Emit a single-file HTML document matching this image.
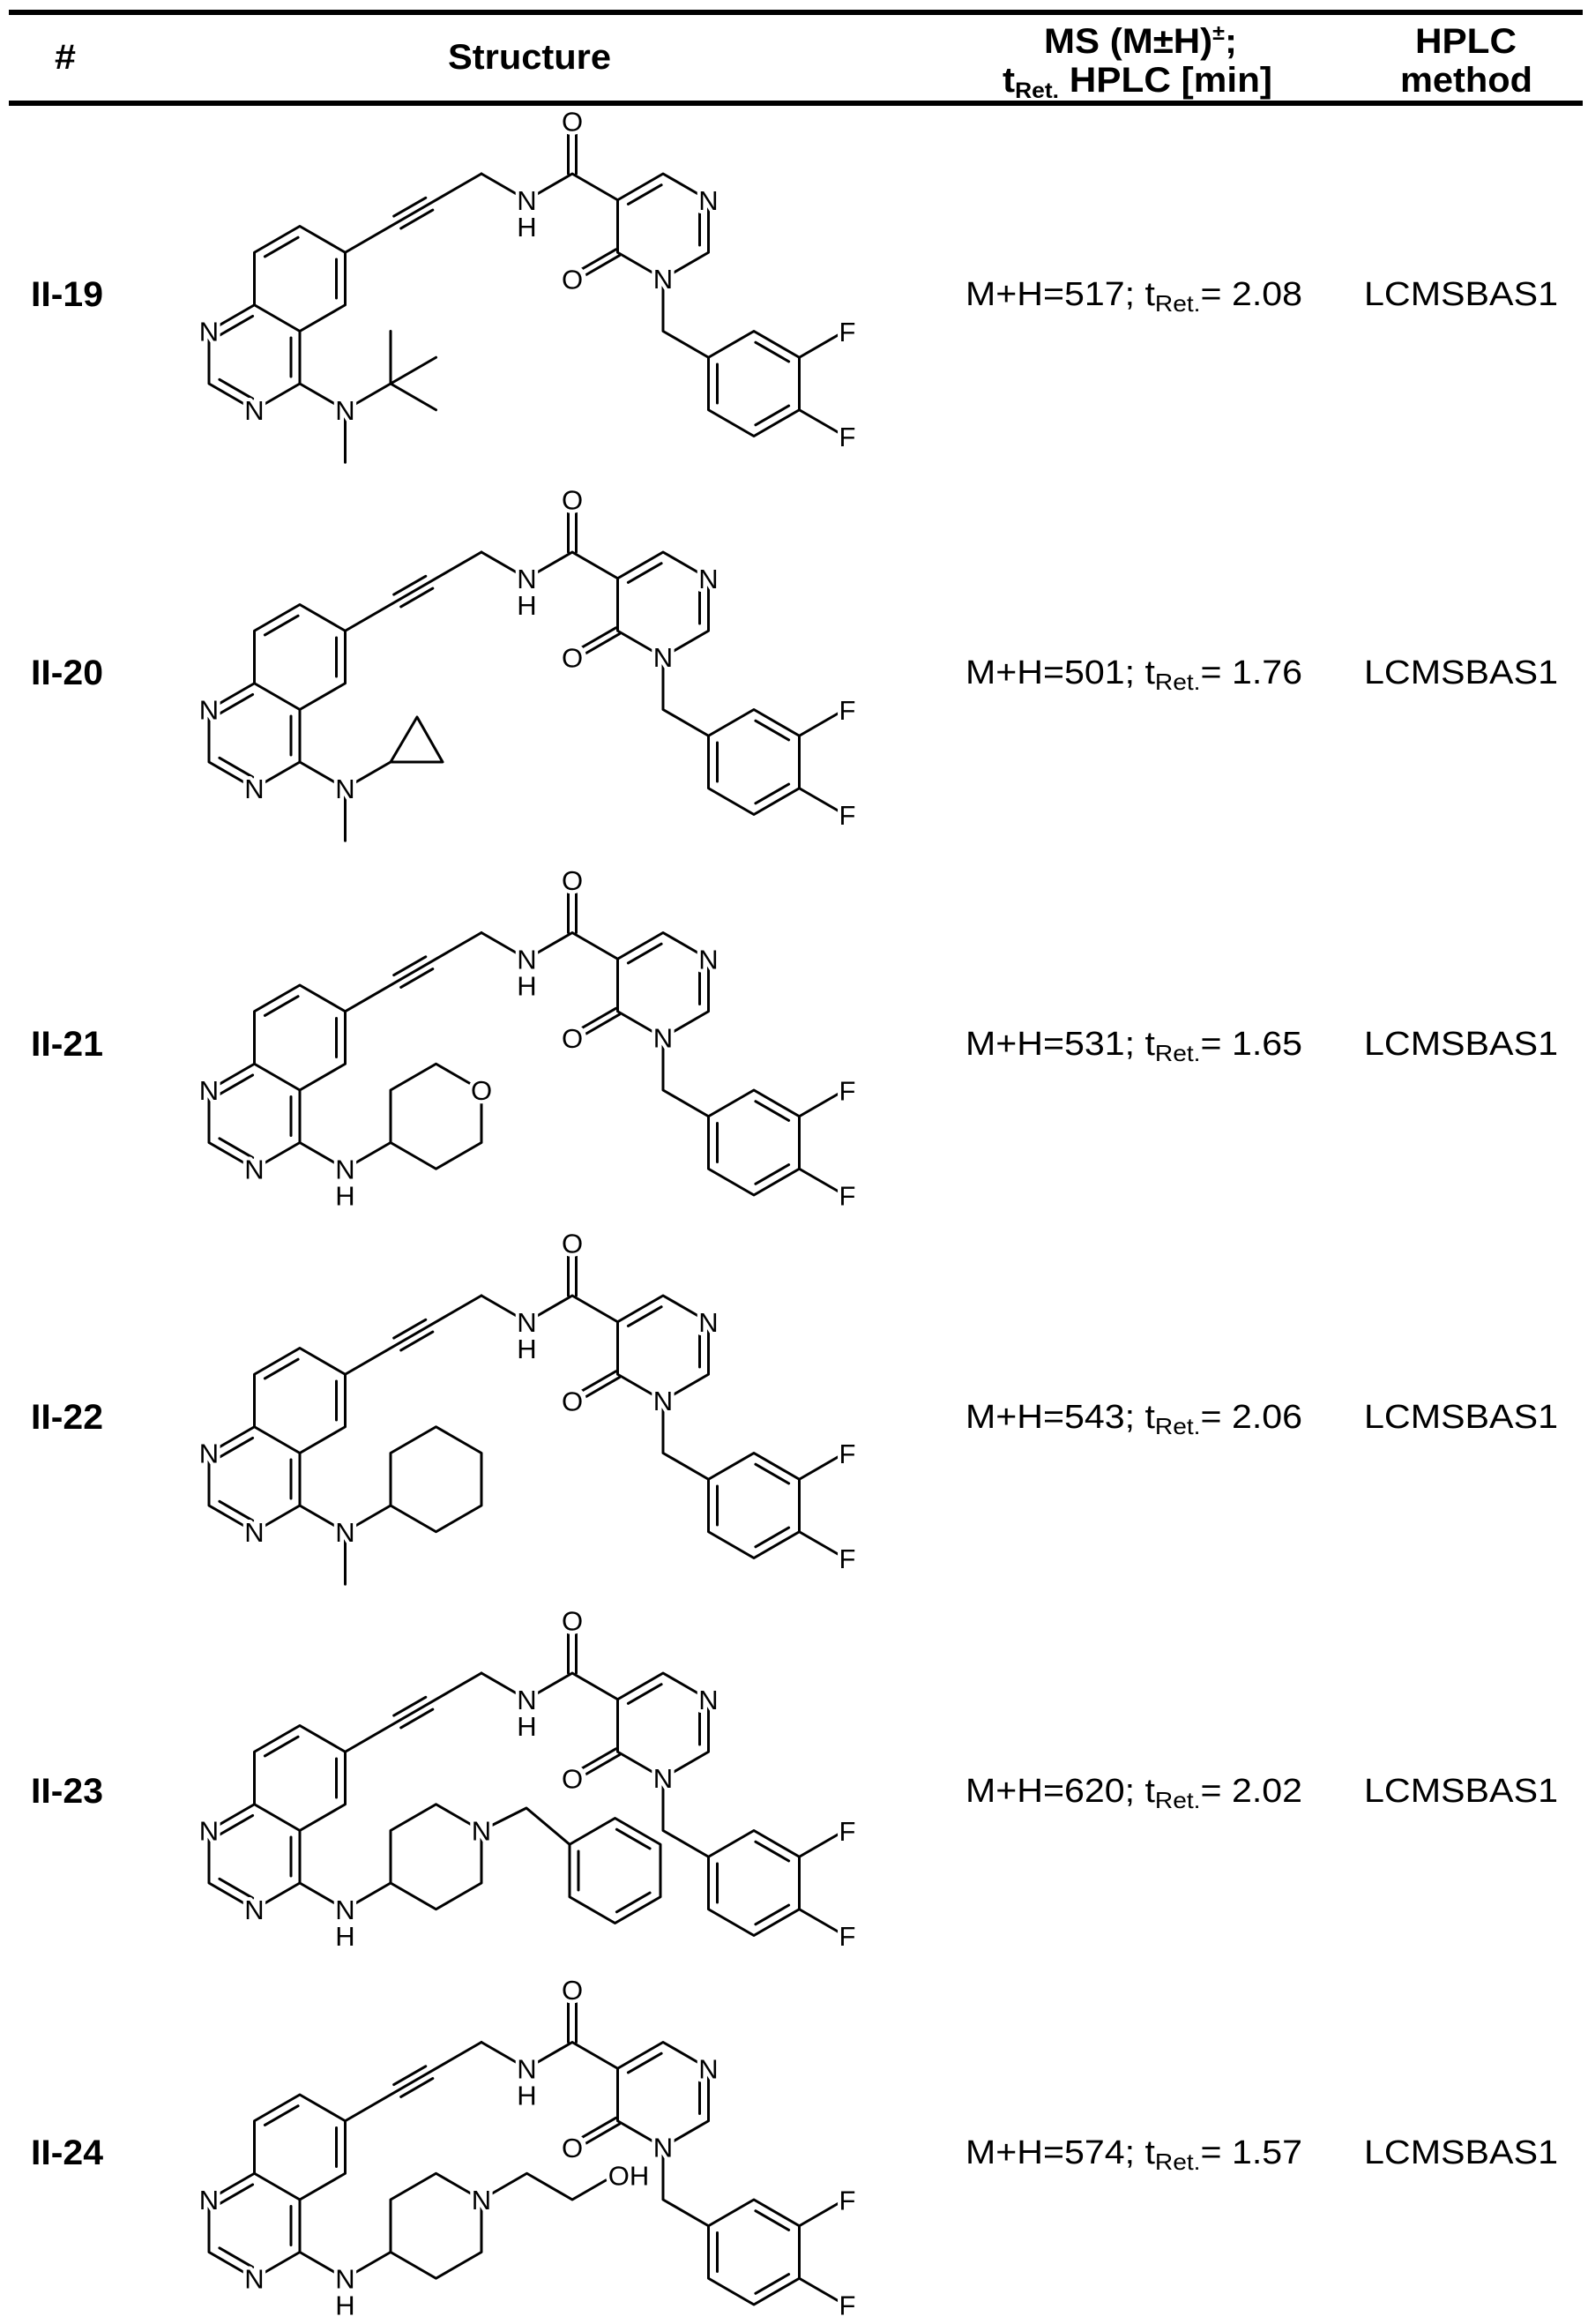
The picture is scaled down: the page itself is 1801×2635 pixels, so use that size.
<!DOCTYPE html>
<html><head><meta charset="utf-8">
<style>
html,body{margin:0;padding:0;background:#fff;}
svg{display:block;}
.b{stroke:#000;stroke-width:3;fill:none;stroke-linecap:round;stroke-linejoin:round;}
.a{font-family:"Liberation Sans",Arial,sans-serif;font-size:31px;fill:#000;text-anchor:middle;stroke:#fff;stroke-width:8;paint-order:stroke;stroke-linejoin:round;}
.t{font-family:"Liberation Sans",Arial,sans-serif;fill:#000;}
.h{font-weight:bold;font-size:40px;}
.d{font-size:38px;}
.w{fill:#fff;stroke:none;}
</style></head><body>
<svg width="1801" height="2635" viewBox="0 0 1801 2635" xmlns="http://www.w3.org/2000/svg">
<defs>
<g id="core">
<g class="b">
<polygon points="340,256.5 391.5,286.25 391.5,345.75 340,375.5 288.5,345.75 288.5,286.25"/>
<polyline points="288.5,345.75 237,375.5 237,435 288.5,464.75 340,435 340,375.5"/>
<line x1="300.4" y1="290.9" x2="338.1" y2="269.2"/>
<line x1="381.5" y1="294" x2="381.5" y2="338"/>
<line x1="286.6" y1="358.4" x2="248.9" y2="380.2"/>
<line x1="330" y1="383" x2="330" y2="427"/>
<line x1="248.9" y1="430.3" x2="286.6" y2="452.1"/>
<line x1="391.5" y1="286.25" x2="546" y2="197"/>
<line x1="446.7" y1="245.1" x2="482.8" y2="224.3"/>
<line x1="454.7" y1="258.9" x2="490.8" y2="238.1"/>
<polyline points="546,197 597.5,226.75 649,197 700.5,226.75"/>
<line x1="644.5" y1="197" x2="644.5" y2="140"/>
<line x1="653.5" y1="197" x2="653.5" y2="140"/>
<polygon points="700.5,226.75 752,197 803.5,226.75 803.5,286.25 752,316 700.5,286.25"/>
<line x1="712.4" y1="231.4" x2="750.1" y2="209.7"/>
<line x1="793.5" y1="236" x2="793.5" y2="278"/>
<line x1="702.5" y1="289.7" x2="651" y2="319.5"/>
<line x1="698.5" y1="282.8" x2="647" y2="312.5"/>
<polyline points="752,316 752,375.5 803.5,405.25"/>
<polygon points="855,375.5 906.5,405.25 906.5,464.75 855,494.5 803.5,464.75 803.5,405.25"/>
<line x1="813.5" y1="413" x2="813.5" y2="457"/>
<line x1="856.9" y1="388.2" x2="894.6" y2="409.9"/>
<line x1="894.6" y1="460.1" x2="856.9" y2="481.8"/>
<line x1="906.5" y1="405.25" x2="958" y2="375.5"/>
<line x1="906.5" y1="464.75" x2="958" y2="494.5"/>
<line x1="340" y1="435" x2="391.5" y2="464.75"/>
</g>
<circle class="w" cx="649" cy="316" r="16"/>
<circle class="w" cx="649" cy="137" r="16"/>
</g>
<g id="hex" class="b"><polygon points="443,435 443,375.5 494.5,345.75 546,375.5 546,435 494.5,464.75"/><line x1="391.5" y1="464.75" x2="443" y2="435"/></g>
</defs>

<rect x="10" y="11" width="1785" height="6" fill="#000"/>
<rect x="10" y="114" width="1785" height="6" fill="#000"/>
<text class="t h" x="62" y="78" textLength="24" lengthAdjust="spacingAndGlyphs">#</text>
<text class="t h" x="508" y="78" textLength="185" lengthAdjust="spacingAndGlyphs">Structure</text>
<text class="t h" x="1184" y="60" textLength="219" lengthAdjust="spacingAndGlyphs">MS (M±H)<tspan font-size="24" dy="-15">±</tspan><tspan dy="15">;</tspan></text>
<text class="t h" x="1137" y="104" textLength="306" lengthAdjust="spacingAndGlyphs">t<tspan font-size="25" dy="7">Ret.</tspan><tspan dy="-7"> HPLC [min]</tspan></text>
<text class="t h" x="1605" y="60" textLength="115" lengthAdjust="spacingAndGlyphs">HPLC</text>
<text class="t h" x="1588" y="104" textLength="150" lengthAdjust="spacingAndGlyphs">method</text>

<g>
<use href="#core"/>
<g class="b"><line x1="391.5" y1="464.75" x2="391.5" y2="524.25"/><line x1="391.5" y1="464.75" x2="443" y2="435"/><line x1="443" y1="435" x2="443" y2="375.5"/><line x1="443" y1="435" x2="494.5" y2="405.25"/><line x1="443" y1="435" x2="494.5" y2="464.75"/></g>
<text class="a" x="391.5" y="476">N</text>
</g>
<g transform="translate(0,429)">
<use href="#core"/>
<g class="b"><line x1="391.5" y1="464.75" x2="391.5" y2="524.25"/><line x1="391.5" y1="464.75" x2="443" y2="435"/><polygon points="443,435 473,384 502,435"/></g>
<text class="a" x="391.5" y="476">N</text>
</g>
<g transform="translate(0,860.5)">
<use href="#core"/><use href="#hex"/>
<circle class="w" cx="546" cy="375.5" r="15"/>
<text class="a" x="391.5" y="476">N</text><text class="a" x="391.5" y="506">H</text>
<text class="a" x="546" y="386.5">O</text>
</g>
<g transform="translate(0,1272)">
<use href="#core"/><use href="#hex"/>
<g class="b"><line x1="391.5" y1="464.75" x2="391.5" y2="524.25"/></g>
<text class="a" x="391.5" y="476">N</text>
</g>
<g transform="translate(0,1700)">
<use href="#core"/><use href="#hex"/>
<g class="b"><polyline points="546,375.5 597,350 646,391.25"/>
<polygon points="697.5,361.5 749,391.25 749,450.75 697.5,480.5 646,450.75 646,391.25"/>
<line x1="656" y1="399" x2="656" y2="443"/>
<line x1="699.4" y1="374.2" x2="737.1" y2="395.9"/>
<line x1="737.1" y1="446.1" x2="699.4" y2="467.8"/></g>
<text class="a" x="391.5" y="476">N</text><text class="a" x="391.5" y="506">H</text>
<text class="a" x="546" y="386.5">N</text>
</g>
<g transform="translate(0,2118.5)">
<use href="#core"/><use href="#hex"/>
<g class="b"><polyline points="546,375.5 597.5,345.75 649,375.5 688,353"/></g>
<text class="a" x="391.5" y="476">N</text><text class="a" x="391.5" y="506">H</text>
<text class="a" x="546" y="386.5">N</text>
<text class="a" x="713" y="359">OH</text>
</g>

<g>
<text class="a" x="237" y="386.5">N</text><text class="a" x="288.5" y="476">N</text>
<text class="a" x="597.5" y="238">N</text><text class="a" x="597.5" y="268">H</text>
<text class="a" x="649" y="148.5">O</text><text class="a" x="803.5" y="238">N</text>
<text class="a" x="752" y="327">N</text><text class="a" x="649" y="327.5">O</text>
<text class="a" x="961" y="387">F</text><text class="a" x="961" y="506">F</text>
</g>
<g transform="translate(0,429)">
<text class="a" x="237" y="386.5">N</text><text class="a" x="288.5" y="476">N</text>
<text class="a" x="597.5" y="238">N</text><text class="a" x="597.5" y="268">H</text>
<text class="a" x="649" y="148.5">O</text><text class="a" x="803.5" y="238">N</text>
<text class="a" x="752" y="327">N</text><text class="a" x="649" y="327.5">O</text>
<text class="a" x="961" y="387">F</text><text class="a" x="961" y="506">F</text>
</g>
<g transform="translate(0,860.5)">
<text class="a" x="237" y="386.5">N</text><text class="a" x="288.5" y="476">N</text>
<text class="a" x="597.5" y="238">N</text><text class="a" x="597.5" y="268">H</text>
<text class="a" x="649" y="148.5">O</text><text class="a" x="803.5" y="238">N</text>
<text class="a" x="752" y="327">N</text><text class="a" x="649" y="327.5">O</text>
<text class="a" x="961" y="387">F</text><text class="a" x="961" y="506">F</text>
</g>
<g transform="translate(0,1272)">
<text class="a" x="237" y="386.5">N</text><text class="a" x="288.5" y="476">N</text>
<text class="a" x="597.5" y="238">N</text><text class="a" x="597.5" y="268">H</text>
<text class="a" x="649" y="148.5">O</text><text class="a" x="803.5" y="238">N</text>
<text class="a" x="752" y="327">N</text><text class="a" x="649" y="327.5">O</text>
<text class="a" x="961" y="387">F</text><text class="a" x="961" y="506">F</text>
</g>
<g transform="translate(0,1700)">
<text class="a" x="237" y="386.5">N</text><text class="a" x="288.5" y="476">N</text>
<text class="a" x="597.5" y="238">N</text><text class="a" x="597.5" y="268">H</text>
<text class="a" x="649" y="148.5">O</text><text class="a" x="803.5" y="238">N</text>
<text class="a" x="752" y="327">N</text><text class="a" x="649" y="327.5">O</text>
<text class="a" x="961" y="387">F</text><text class="a" x="961" y="506">F</text>
</g>
<g transform="translate(0,2118.5)">
<text class="a" x="237" y="386.5">N</text><text class="a" x="288.5" y="476">N</text>
<text class="a" x="597.5" y="238">N</text><text class="a" x="597.5" y="268">H</text>
<text class="a" x="649" y="148.5">O</text><text class="a" x="803.5" y="238">N</text>
<text class="a" x="752" y="327">N</text><text class="a" x="649" y="327.5">O</text>
<text class="a" x="961" y="387">F</text><text class="a" x="961" y="506">F</text>
</g>

<text class="t h" x="35" y="347" textLength="82" lengthAdjust="spacingAndGlyphs">II-19</text>
<text class="t h" x="35" y="776" textLength="82" lengthAdjust="spacingAndGlyphs">II-20</text>
<text class="t h" x="35" y="1197" textLength="82" lengthAdjust="spacingAndGlyphs">II-21</text>
<text class="t h" x="35" y="1620" textLength="82" lengthAdjust="spacingAndGlyphs">II-22</text>
<text class="t h" x="35" y="2044" textLength="82" lengthAdjust="spacingAndGlyphs">II-23</text>
<text class="t h" x="35" y="2454" textLength="82" lengthAdjust="spacingAndGlyphs">II-24</text>

<text class="t d" x="1095" y="346" textLength="382" lengthAdjust="spacingAndGlyphs">M+H=517; t<tspan font-size="26" dy="7">Ret.</tspan><tspan dy="-7">= 2.08</tspan></text>
<text class="t d" x="1095" y="775" textLength="382" lengthAdjust="spacingAndGlyphs">M+H=501; t<tspan font-size="26" dy="7">Ret.</tspan><tspan dy="-7">= 1.76</tspan></text>
<text class="t d" x="1095" y="1196" textLength="382" lengthAdjust="spacingAndGlyphs">M+H=531; t<tspan font-size="26" dy="7">Ret.</tspan><tspan dy="-7">= 1.65</tspan></text>
<text class="t d" x="1095" y="1619" textLength="382" lengthAdjust="spacingAndGlyphs">M+H=543; t<tspan font-size="26" dy="7">Ret.</tspan><tspan dy="-7">= 2.06</tspan></text>
<text class="t d" x="1095" y="2043" textLength="382" lengthAdjust="spacingAndGlyphs">M+H=620; t<tspan font-size="26" dy="7">Ret.</tspan><tspan dy="-7">= 2.02</tspan></text>
<text class="t d" x="1095" y="2453" textLength="382" lengthAdjust="spacingAndGlyphs">M+H=574; t<tspan font-size="26" dy="7">Ret.</tspan><tspan dy="-7">= 1.57</tspan></text>

<text class="t d" x="1547" y="346" textLength="220" lengthAdjust="spacingAndGlyphs">LCMSBAS1</text>
<text class="t d" x="1547" y="775" textLength="220" lengthAdjust="spacingAndGlyphs">LCMSBAS1</text>
<text class="t d" x="1547" y="1196" textLength="220" lengthAdjust="spacingAndGlyphs">LCMSBAS1</text>
<text class="t d" x="1547" y="1619" textLength="220" lengthAdjust="spacingAndGlyphs">LCMSBAS1</text>
<text class="t d" x="1547" y="2043" textLength="220" lengthAdjust="spacingAndGlyphs">LCMSBAS1</text>
<text class="t d" x="1547" y="2453" textLength="220" lengthAdjust="spacingAndGlyphs">LCMSBAS1</text>
</svg>
</body></html>
